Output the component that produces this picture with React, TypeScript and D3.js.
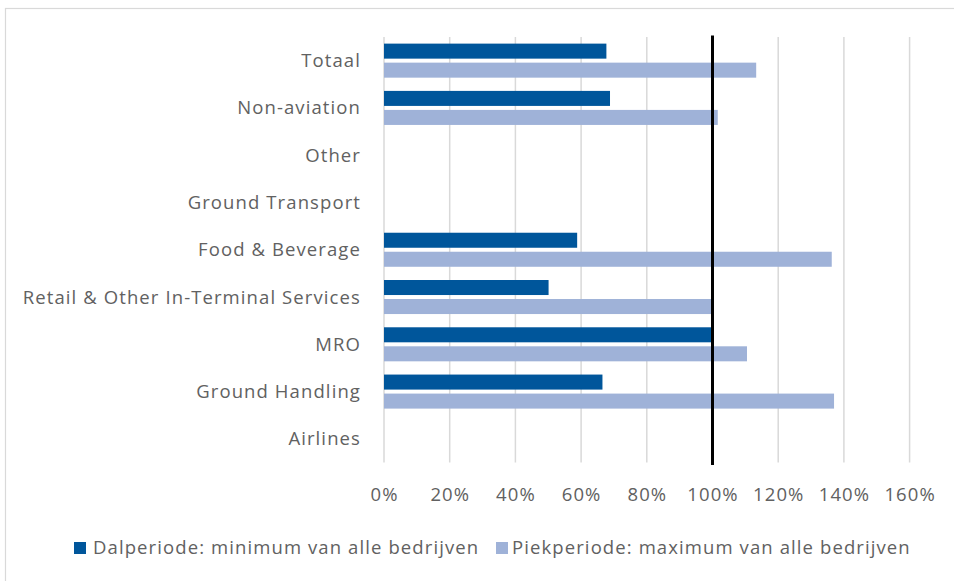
import React from "react";
import * as d3 from "d3";

const categories = [
  "Totaal",
  "Non-aviation",
  "Other",
  "Ground Transport",
  "Food & Beverage",
  "Retail & Other In-Terminal Services",
  "MRO",
  "Ground Handling",
  "Airlines",
];
const dalValues: (number | null)[] = [0.677, 0.688, null, null, 0.588, 0.501, 0.997, 0.665, null];
const piekValues: (number | null)[] = [1.133, 1.016, null, null, 1.363, 0.997, 1.105, 1.37, null];
const seriesNames = ["Dalperiode: minimum van alle bedrijven", "Piekperiode: maximum van alle bedrijven"];
const tickValues = [0, 0.2, 0.4, 0.6, 0.8, 1.0, 1.2, 1.4, 1.6];
const referenceValue = 1.0;

const W = 954;
const H = 581;
const colors = ["#00569B", "#9FB2D8"];
const textColor = "#616161";
const font = "'Open Sans', sans-serif";
const fs = 18.5;
const ls = 1.1;

export default function App() {
  const x = d3.scaleLinear().domain([0, 1.6]).range([384, 909.6]);
  const y = d3
    .scaleBand<string>()
    .domain(categories)
    .range([37, 462.5])
    .paddingInner(0.28)
    .paddingOuter(0.14);
  const inner = d3
    .scaleBand<string>()
    .domain(["dal", "piek"])
    .range([0, y.bandwidth()])
    .paddingInner(0.21);
  const series = [
    { key: "dal", values: dalValues, color: colors[0] },
    { key: "piek", values: piekValues, color: colors[1] },
  ];
  const [y0, y1] = y.range();

  return (
    <svg
      width={W}
      height={H}
      style={{ position: "absolute", left: 0, top: 0, background: "#fff" }}
      fontFamily={font}
    >
      <rect x={0} y={0} width={W} height={H} fill="#fff" />
      <rect x={5.5} y={8.5} width={W + 20} height={H + 20} fill="none" stroke="#D9D9D9" strokeWidth={1.2} />
      {/* gridlines */}
      {tickValues.map((t) => (
        <line key={t} x1={x(t)} x2={x(t)} y1={y0} y2={y1} stroke="#D9D9D9" strokeWidth={1.5} />
      ))}
      {/* bars */}
      {series.map((s) =>
        categories.map((c, i) => {
          const v = s.values[i];
          if (v == null) return null;
          return (
            <rect
              key={s.key + c}
              x={x(0)}
              y={(y(c) as number) + (inner(s.key) as number)}
              width={x(v) - x(0)}
              height={inner.bandwidth()}
              fill={s.color}
            />
          );
        })
      )}
      {/* reference line */}
      <line
        x1={x(referenceValue)}
        x2={x(referenceValue)}
        y1={y0 - 1.5}
        y2={y1 + 2.5}
        stroke="#000"
        strokeWidth={3}
      />
      {/* category labels */}
      {categories.map((c) => (
        <text
          key={c}
          x={361}
          y={(y(c) as number) + y.bandwidth() / 2}
          dy={6.5}
          textAnchor="end"
          fontSize={fs}
          letterSpacing={ls}
          fill={textColor}
        >
          {c}
        </text>
      ))}
      {/* tick labels */}
      {tickValues.map((t) => (
        <text
          key={t}
          x={x(t) + ls / 2}
          y={501}
          textAnchor="middle"
          fontSize={fs}
          letterSpacing={ls}
          fill={textColor}
        >
          {d3.format(".0%")(t)}
        </text>
      ))}
      {/* legend */}
      <rect x={74} y={542} width={12} height={12} fill={colors[0]} />
      <text x={93} y={553.5} fontSize={fs} letterSpacing={ls} fill={textColor}>
        {seriesNames[0]}
      </text>
      <rect x={496} y={542} width={12} height={12} fill={colors[1]} />
      <text x={512} y={553.5} fontSize={fs} letterSpacing={ls} fill={textColor}>
        {seriesNames[1]}
      </text>
    </svg>
  );
}
